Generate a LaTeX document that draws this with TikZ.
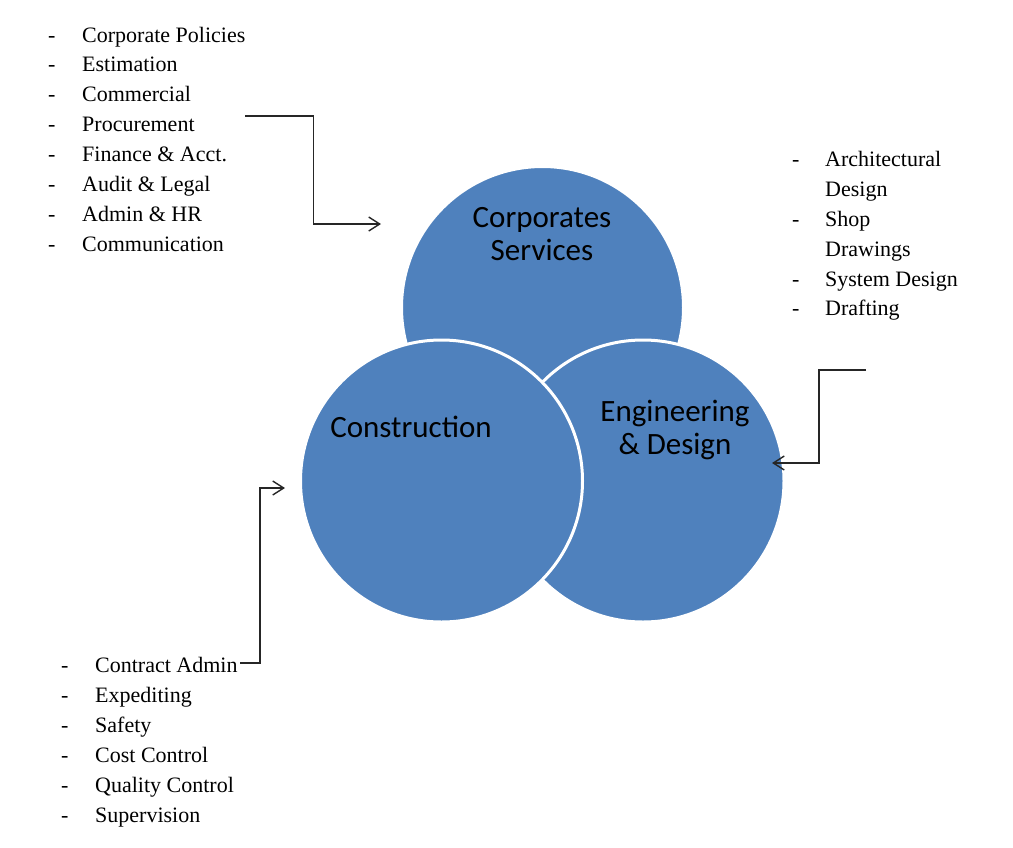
\documentclass[tikz,border=0pt]{standalone}
\usepackage{fontspec}
\setmainfont{Liberation Serif}
\newfontfamily\calib{Carlito}
\usetikzlibrary{arrows.meta}
\definecolor{cblue}{HTML}{4F81BD}
\tikzset{
  bubble/.style={circle, inner sep=0pt, minimum size=282pt, fill=cblue, draw=white, line width=3pt},
  btext/.style={font=\calib\fontsize{31}{33}\selectfont, align=center, text=black},
  item/.style={anchor=base west, inner sep=0pt, font=\fontsize{22}{30}\selectfont},
  conn/.style={line width=1.5pt, draw=black!85, -{Straight Barb[length=11pt,width=14pt,line width=1.4pt]}}
}
\begin{document}
\begin{tikzpicture}[x=1pt,y=-1pt]
\useasboundingbox (0,0) rectangle (1013,847);
% circles
\node[bubble] (corp) at (542.5,307.5) {};
\node[bubble] (eng) at (643,481) {};
\node[bubble] (cons) at (441.5,481) {};
% circle labels
\node[btext, anchor=base] (corpT) at (542,227) {Corporates};
\node[btext, anchor=base] (corpT2) at (542,260) {Services};
\node[btext, anchor=base] (consT) at (411,437) {Construction};
\node[btext, anchor=base] (engT) at (675,421) {Engineering};
\node[btext, anchor=base] (engT2) at (675,454) {\& Design};
% top-left list
\foreach \t [count=\i from 0] in {Corporate Policies, Estimation, Commercial, Procurement, Finance \& Acct., Audit \& Legal, Admin \& HR, Communication}{
  \node[item] (tl\i) at (82,{42+29.9*\i}) {\t};
  \node[item] (tld\i) at (48,{42+29.9*\i}) {-};
}
% right list
\node[item] (r0d) at (792,166) {-};
\node[item] (r0) at (825,166) {Architectural};
\node[item] (r1) at (825,196) {Design};
\node[item] (r2d) at (792,226) {-};
\node[item] (r2) at (825,226) {Shop};
\node[item] (r3) at (825,256) {Drawings};
\node[item] (r4d) at (792,286) {-};
\node[item] (r4) at (825,286) {System Design};
\node[item] (r5d) at (792,315) {-};
\node[item] (r5) at (825,315) {Drafting};
% bottom list
\foreach \t [count=\i from 0] in {Contract Admin, Expediting, Safety, Cost Control, Quality Control, Supervision}{
  \node[item] (bl\i) at (95,{672+30*\i}) {\t};
  \node[item] (bld\i) at (61,{672+30*\i}) {-};
}
% connectors
\coordinate (a1s) at (245,116);
\coordinate (a1e) at (381,224);
\draw[conn] (a1s) -- (313.5,116) |- (a1e);
\coordinate (a2s) at (866,370);
\coordinate (a2e) at (772,463);
\draw[conn] (a2s) -- (819,370) |- (a2e);
\coordinate (a3s) at (240,663);
\coordinate (a3e) at (285,488);
\draw[conn] (a3s) -- (260,663) |- (a3e);
\end{tikzpicture}
\end{document}
